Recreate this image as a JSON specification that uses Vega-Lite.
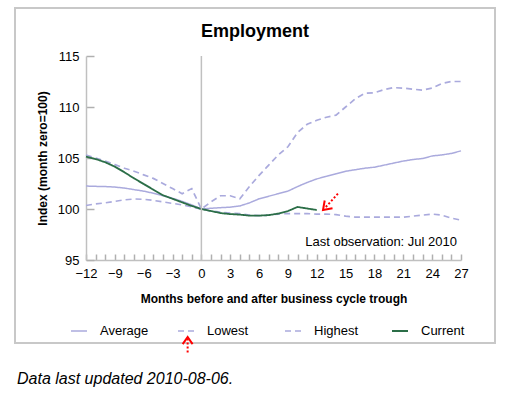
{
  "$schema": "https://vega.github.io/schema/vega-lite/v6.json",
  "padding": {"left": 14, "top": 7, "right": 10, "bottom": 10},
  "background": "white",
  "config": {
    "font": "Liberation Sans",
    "view": {"stroke": "#c8c8c8", "strokeWidth": 2}
  },
  "title": {
    "text": "Data last updated 2010-08-06.",
    "orient": "bottom",
    "anchor": "start",
    "fontStyle": "italic",
    "fontWeight": "normal",
    "fontSize": 16,
    "color": "black",
    "offset": 16,
    "dx": 3
  },
  "vconcat": [
    {
      "width": 480,
      "height": 335,
      "title": {
        "text": "Employment",
        "fontSize": 18,
        "fontWeight": "bold",
        "color": "black",
        "anchor": "middle",
        "offset": -33
      },
      "layer": [
        {
          "data": {
            "values": [
              {"m": -12, "v": 102.25, "s": "Average"}, {"m": -11, "v": 102.22, "s": "Average"}, {"m": -10, "v": 102.2, "s": "Average"}, {"m": -9, "v": 102.15, "s": "Average"}, {"m": -8, "v": 102.05, "s": "Average"}, {"m": -7, "v": 101.9, "s": "Average"}, {"m": -6, "v": 101.75, "s": "Average"}, {"m": -5, "v": 101.55, "s": "Average"}, {"m": -4, "v": 101.3, "s": "Average"}, {"m": -3, "v": 101.05, "s": "Average"}, {"m": -2, "v": 100.75, "s": "Average"}, {"m": -1, "v": 100.4, "s": "Average"}, {"m": 0, "v": 100, "s": "Average"}, {"m": 1, "v": 100.07, "s": "Average"}, {"m": 2, "v": 100.13, "s": "Average"}, {"m": 3, "v": 100.18, "s": "Average"}, {"m": 4, "v": 100.3, "s": "Average"}, {"m": 5, "v": 100.6, "s": "Average"}, {"m": 6, "v": 101.0, "s": "Average"}, {"m": 7, "v": 101.25, "s": "Average"}, {"m": 8, "v": 101.5, "s": "Average"}, {"m": 9, "v": 101.75, "s": "Average"}, {"m": 10, "v": 102.2, "s": "Average"}, {"m": 11, "v": 102.6, "s": "Average"}, {"m": 12, "v": 102.95, "s": "Average"}, {"m": 13, "v": 103.2, "s": "Average"}, {"m": 14, "v": 103.45, "s": "Average"}, {"m": 15, "v": 103.7, "s": "Average"}, {"m": 16, "v": 103.85, "s": "Average"}, {"m": 17, "v": 104.0, "s": "Average"}, {"m": 18, "v": 104.1, "s": "Average"}, {"m": 19, "v": 104.3, "s": "Average"}, {"m": 20, "v": 104.5, "s": "Average"}, {"m": 21, "v": 104.7, "s": "Average"}, {"m": 22, "v": 104.85, "s": "Average"}, {"m": 23, "v": 104.95, "s": "Average"}, {"m": 24, "v": 105.2, "s": "Average"}, {"m": 25, "v": 105.3, "s": "Average"}, {"m": 26, "v": 105.45, "s": "Average"}, {"m": 27, "v": 105.7, "s": "Average"},
              {"m": -12, "v": 100.35, "s": "Lowest"}, {"m": -11, "v": 100.5, "s": "Lowest"}, {"m": -10, "v": 100.6, "s": "Lowest"}, {"m": -9, "v": 100.75, "s": "Lowest"}, {"m": -8, "v": 100.9, "s": "Lowest"}, {"m": -7, "v": 100.98, "s": "Lowest"}, {"m": -6, "v": 100.95, "s": "Lowest"}, {"m": -5, "v": 100.85, "s": "Lowest"}, {"m": -4, "v": 100.7, "s": "Lowest"}, {"m": -3, "v": 100.55, "s": "Lowest"}, {"m": -2, "v": 100.4, "s": "Lowest"}, {"m": -1, "v": 100.2, "s": "Lowest"}, {"m": 0, "v": 100, "s": "Lowest"}, {"m": 1, "v": 99.8, "s": "Lowest"}, {"m": 2, "v": 99.7, "s": "Lowest"}, {"m": 3, "v": 99.6, "s": "Lowest"}, {"m": 4, "v": 99.55, "s": "Lowest"}, {"m": 5, "v": 99.4, "s": "Lowest"}, {"m": 6, "v": 99.35, "s": "Lowest"}, {"m": 7, "v": 99.4, "s": "Lowest"}, {"m": 8, "v": 99.5, "s": "Lowest"}, {"m": 9, "v": 99.55, "s": "Lowest"}, {"m": 10, "v": 99.55, "s": "Lowest"}, {"m": 11, "v": 99.55, "s": "Lowest"}, {"m": 12, "v": 99.5, "s": "Lowest"}, {"m": 13, "v": 99.5, "s": "Lowest"}, {"m": 14, "v": 99.45, "s": "Lowest"}, {"m": 15, "v": 99.3, "s": "Lowest"}, {"m": 16, "v": 99.2, "s": "Lowest"}, {"m": 17, "v": 99.2, "s": "Lowest"}, {"m": 18, "v": 99.2, "s": "Lowest"}, {"m": 19, "v": 99.2, "s": "Lowest"}, {"m": 20, "v": 99.2, "s": "Lowest"}, {"m": 21, "v": 99.2, "s": "Lowest"}, {"m": 22, "v": 99.3, "s": "Lowest"}, {"m": 23, "v": 99.4, "s": "Lowest"}, {"m": 24, "v": 99.5, "s": "Lowest"}, {"m": 25, "v": 99.4, "s": "Lowest"}, {"m": 26, "v": 99.1, "s": "Lowest"}, {"m": 27, "v": 98.9, "s": "Lowest"},
              {"m": -12, "v": 105.3, "s": "Highest"}, {"m": -11, "v": 105.0, "s": "Highest"}, {"m": -10, "v": 104.7, "s": "Highest"}, {"m": -9, "v": 104.35, "s": "Highest"}, {"m": -8, "v": 104.0, "s": "Highest"}, {"m": -7, "v": 103.7, "s": "Highest"}, {"m": -6, "v": 103.35, "s": "Highest"}, {"m": -5, "v": 103.0, "s": "Highest"}, {"m": -4, "v": 102.5, "s": "Highest"}, {"m": -3, "v": 102.0, "s": "Highest"}, {"m": -2, "v": 101.5, "s": "Highest"}, {"m": -1, "v": 102.0, "s": "Highest"}, {"m": 0, "v": 100, "s": "Highest"}, {"m": 1, "v": 100.7, "s": "Highest"}, {"m": 2, "v": 101.3, "s": "Highest"}, {"m": 3, "v": 101.3, "s": "Highest"}, {"m": 4, "v": 101.0, "s": "Highest"}, {"m": 5, "v": 102.2, "s": "Highest"}, {"m": 6, "v": 103.3, "s": "Highest"}, {"m": 7, "v": 104.3, "s": "Highest"}, {"m": 8, "v": 105.3, "s": "Highest"}, {"m": 9, "v": 106.1, "s": "Highest"}, {"m": 10, "v": 107.5, "s": "Highest"}, {"m": 11, "v": 108.3, "s": "Highest"}, {"m": 12, "v": 108.7, "s": "Highest"}, {"m": 13, "v": 109.0, "s": "Highest"}, {"m": 14, "v": 109.2, "s": "Highest"}, {"m": 15, "v": 110.0, "s": "Highest"}, {"m": 16, "v": 110.8, "s": "Highest"}, {"m": 17, "v": 111.35, "s": "Highest"}, {"m": 18, "v": 111.4, "s": "Highest"}, {"m": 19, "v": 111.7, "s": "Highest"}, {"m": 20, "v": 111.9, "s": "Highest"}, {"m": 21, "v": 111.85, "s": "Highest"}, {"m": 22, "v": 111.75, "s": "Highest"}, {"m": 23, "v": 111.65, "s": "Highest"}, {"m": 24, "v": 111.85, "s": "Highest"}, {"m": 25, "v": 112.3, "s": "Highest"}, {"m": 26, "v": 112.5, "s": "Highest"}, {"m": 27, "v": 112.5, "s": "Highest"},
              {"m": -12, "v": 105.13, "s": "Current"}, {"m": -11, "v": 104.9, "s": "Current"}, {"m": -10, "v": 104.58, "s": "Current"}, {"m": -9, "v": 104.15, "s": "Current"}, {"m": -8, "v": 103.6, "s": "Current"}, {"m": -7, "v": 103.0, "s": "Current"}, {"m": -6, "v": 102.45, "s": "Current"}, {"m": -5, "v": 101.9, "s": "Current"}, {"m": -4, "v": 101.35, "s": "Current"}, {"m": -3, "v": 101.0, "s": "Current"}, {"m": -2, "v": 100.65, "s": "Current"}, {"m": -1, "v": 100.3, "s": "Current"}, {"m": 0, "v": 100, "s": "Current"}, {"m": 1, "v": 99.8, "s": "Current"}, {"m": 2, "v": 99.6, "s": "Current"}, {"m": 3, "v": 99.5, "s": "Current"}, {"m": 4, "v": 99.45, "s": "Current"}, {"m": 5, "v": 99.35, "s": "Current"}, {"m": 6, "v": 99.35, "s": "Current"}, {"m": 7, "v": 99.4, "s": "Current"}, {"m": 8, "v": 99.55, "s": "Current"}, {"m": 9, "v": 99.8, "s": "Current"}, {"m": 10, "v": 100.2, "s": "Current"}, {"m": 11, "v": 100.05, "s": "Current"}, {"m": 12, "v": 99.9, "s": "Current"}
            ]
          },
          "mark": {"type": "line", "clip": false},
          "encoding": {
            "x": {
              "field": "m",
              "type": "quantitative",
              "scale": {"domain": [-12, 27], "range": [71, 446], "nice": false, "zero": false},
              "axis": {
                "orient": "top",
                "offset": -252,
                "title": "Months before and after business cycle trough",
                "titleX": 258.5,
                "titleY": 38,
                "titleBaseline": "middle",
                "titleAnchor": "middle",
                "titleAlign": "center",
                "values": [-12, -11, -10, -9, -8, -7, -6, -5, -4, -3, -2, -1, 0, 1, 2, 3, 4, 5, 6, 7, 8, 9, 10, 11, 12, 13, 14, 15, 16, 17, 18, 19, 20, 21, 22, 23, 24, 25, 26, 27],
                "tickCount": 100,
                "format": "d",
                "labelExpr": "datum.value % 3 === 0 ? datum.label : ''",
                "grid": false,
                "ticks": true,
                "domainColor": "#c0c0c0",
                "domainWidth": 1.5,
                "tickColor": "#b0b0b0",
                "tickWidth": 1.5,
                "tickSize": 6,
                "labelPadding": -13,
                "labelBaseline": "top",
                "labelFontSize": 13,
                "labelColor": "black",
                "labelFlush": false,
                "labelOverlap": false,
                "labelBound": false,
                "titleFontSize": 12,
                "titleFontWeight": "bold",
                "titleColor": "black"
              }
            },
            "y": {
              "field": "v",
              "type": "quantitative",
              "scale": {"domain": [95, 115], "range": [252, 48], "nice": false, "zero": false},
              "axis": {
                "orient": "right",
                "offset": -409,
                "title": "Index (month zero=100)",
                "titleX": -44,
                "titleY": 150,
                "titleAngle": 270,
                "titleBaseline": "middle",
                "titleAlign": "center",
                "values": [95, 100, 105, 110, 115],
                "tickCount": 100,
                "format": "d",
                "grid": false,
                "ticks": true,
                "domainColor": "#c0c0c0",
                "domainWidth": 1.5,
                "tickColor": "#b0b0b0",
                "tickWidth": 1.5,
                "tickSize": 8,
                "labelPadding": -15,
                "labelAlign": "right",
                "labelFontSize": 13,
                "labelColor": "black",
                "labelFlush": false,
                "labelOverlap": false,
                "titleFontSize": 12,
                "titleFontWeight": "bold",
                "titleColor": "black"
              }
            },
            "color": {
              "field": "s",
              "type": "nominal",
              "scale": {"domain": ["Average", "Lowest", "Highest", "Current"], "range": ["#aaaadd", "#aaaadd", "#aaaadd", "#2b6e47"]},
              "legend": {
                "title": null,
                "orient": "none",
                "legendX": 55,
                "legendY": 314,
                "direction": "horizontal",
                "columns": 4,
                "gridAlign": "all",
                "columnPadding": 25,
                "symbolType": "stroke",
                "symbolSize": 256,
                "symbolStrokeWidth": 1.5,
                "labelOffset": 12,
                "labelFontSize": 13,
                "labelColor": "black"
              }
            },
            "strokeDash": {
              "field": "s",
              "type": "nominal",
              "scale": {"domain": ["Average", "Lowest", "Highest", "Current"], "range": [[1, 0], [6, 4], [6, 4], [1, 0]]},
              "legend": {"title": null}
            },
            "strokeWidth": {
              "field": "s",
              "type": "nominal",
              "scale": {"domain": ["Average", "Lowest", "Highest", "Current"], "range": [1.5, 1.8, 1.8, 3]},
              "legend": null
            }
          }
        },
        {
          "data": {"values": [{"label": "trough"}]},
          "mark": {"type": "rule", "color": "#c0c0c0", "strokeWidth": 1.5},
          "encoding": {
            "x": {"datum": 0, "type": "quantitative"},
            "y": {"datum": 95, "type": "quantitative"},
            "y2": {"datum": 115}
          }
        },
        {
          "data": {"values": [{"note": "Last observation: Jul 2010"}]},
          "mark": {"type": "text", "align": "right", "baseline": "middle", "fontSize": 13, "color": "black", "dx": -4},
          "encoding": {
            "text": {"field": "note", "type": "nominal"},
            "x": {"datum": 27, "type": "quantitative"},
            "y": {"datum": 96.8, "type": "quantitative"}
          }
        },
        {
          "data": {"values": [{"arrow": "last"}]},
          "mark": {"type": "rule", "color": "red", "strokeDash": [2, 2], "strokeWidth": 2, "clip": false},
          "encoding": {
            "x": {"datum": 14.2, "type": "quantitative"},
            "y": {"datum": 101.5, "type": "quantitative"},
            "x2": {"datum": 12.8},
            "y2": {"datum": 100.05}
          }
        },
        {
          "data": {"values": [{"arrow": "last"}]},
          "mark": {"type": "point", "shape": "M-0.7,-1L0,0L0.7,-1", "filled": false, "color": "red", "strokeWidth": 2, "size": 250, "angle": 45, "opacity": 1, "clip": false},
          "encoding": {
            "x": {"datum": 12.65, "type": "quantitative"},
            "y": {"datum": 99.9, "type": "quantitative"}
          }
        },
        {
          "data": {"values": [{"arrow": "legend"}]},
          "mark": {"type": "rule", "color": "red", "strokeDash": [2, 2], "strokeWidth": 2, "clip": false},
          "encoding": {
            "x": {"datum": -1.43, "type": "quantitative"},
            "y": {"datum": 87.3, "type": "quantitative"},
            "y2": {"datum": 85.9}
          }
        },
        {
          "data": {"values": [{"arrow": "legend"}]},
          "mark": {"type": "point", "shape": "M-0.7,-1L0,0L0.7,-1", "filled": false, "color": "red", "strokeWidth": 2, "size": 200, "angle": 180, "opacity": 1, "clip": false},
          "encoding": {
            "x": {"datum": -1.43, "type": "quantitative"},
            "y": {"datum": 87.45, "type": "quantitative"}
          }
        }
      ]
    }
  ]
}
